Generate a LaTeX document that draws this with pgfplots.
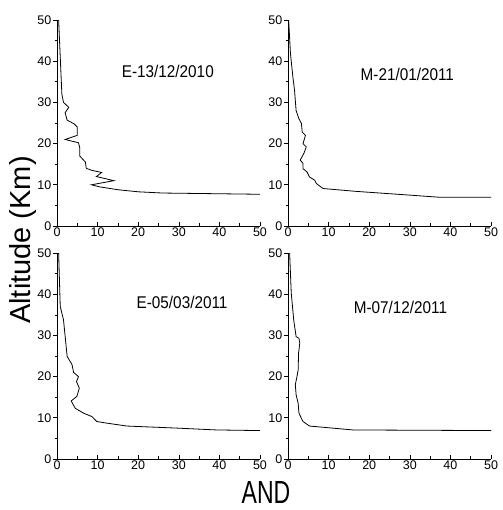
\documentclass[border=0pt]{standalone}
\usepackage{fontspec}
\setmainfont{Liberation Sans}
\usepackage{pgfplots}
\pgfplotsset{compat=1.18}
\pgfplotsset{
 panel/.style={
  anchor=south west, scale only axis, width=203pt, height=206pt,
  xmin=0,xmax=50,ymin=0,ymax=50, axis lines*=left,
  xtick={0,10,...,50}, ytick={0,10,...,50},
  minor x tick num=1, minor y tick num=1,
  xtick align=inside, ytick align=outside,
  major tick length=4pt, minor tick length=2.5pt,
  tick style={black, line width=0.6pt},
  axis line style={line width=0.8pt},
  ticklabel style={font=\fontsize{12.5}{13}\selectfont, inner sep=1.5pt},
  /pgf/number format/assume math mode=true,
  clip=false,
 },
 prof/.style={black, line width=0.8pt, no marks},
}
\tikzset{ttl/.style={font=\fontsize{17}{19}\selectfont}}
\begin{document}
\begin{tikzpicture}[x=1pt,y=1pt]
\path (0,0) rectangle (502,510);
\begin{axis}[panel, at={(57pt,284pt)}]
\addplot[prof] coordinates {
(0.4,50) (0.8,41) (1.2,32) (1.6,30) (2.9,28.8) (2,27.5) (2.5,25.7) (4.2,24.8) (5,24) (5,22) (2,21) (5.3,20.2) (5.6,19) (5.6,17) (7,15.5) (7.2,14) (8.6,13.5) (11,13) (9.7,12) (14,11) (8.5,10) (10.5,9.5) (15,8.8) (20,8.3) (26,8) (50,7.7)
};
\node[ttl] at (axis cs:27.3,37.4) {\scalebox{0.9}[1]{E-13/12/2010}};
\end{axis}
\begin{axis}[panel, at={(288pt,284pt)}]
\addplot[prof] coordinates {
(0.16,50) (0.6,41.9) (1.2,36.2) (1.6,33) (2,28) (2.7,26) (3.3,24.9) (3.5,22.8) (4.3,22) (3.7,20) (4.5,19.2) (3.9,17.6) (3,16) (3.7,15.2) (3.7,13.9) (4.7,13.1) (5.3,11.9) (6.6,11.1) (7,10.3) (8.6,9.1) (16.8,8.4) (29.9,7.5) (37,7) (50,7)
};
\node[ttl] at (axis cs:29.4,36.7) {\scalebox{0.9}[1]{M-21/01/2011}};
\end{axis}
\begin{axis}[panel, at={(57pt,51pt)}]
\addplot[prof] coordinates {
(0.4,50) (0.8,37) (1.6,33.8) (2.5,24.9) (3.7,22.9) (4.1,21) (5.3,20) (4.8,18.8) (5.5,17.2) (4.9,15.2) (3.5,14.1) (4.5,12.3) (6.6,11.1) (8.6,10.3) (9.8,9.1) (12.3,8.7) (17.2,8) (29.5,7.5) (39.3,7.05) (50,6.9)
};
\node[ttl] at (axis cs:30.8,38.1) {\scalebox{0.9}[1]{E-05/03/2011}};
\end{axis}
\begin{axis}[panel, at={(288pt,51pt)}]
\addplot[prof] coordinates {
(0.4,50) (0.8,40.3) (1.4,33.8) (2,29.7) (2.7,29.3) (2.9,28.1) (2.6,25.7) (2.5,21.6) (2.2,20) (1.8,18) (2,15.6) (2.5,13.5) (2.7,11.1) (3.7,9.1) (5.3,8) (16,7.05) (50,6.9)
};
\node[ttl] at (axis cs:27.7,36.9) {\scalebox{0.9}[1]{M-07/12/2011}};
\end{axis}
\node[rotate=90, font=\fontsize{29}{31}\selectfont] at (23,270) {Altitude (Km)};
\node[inner sep=0pt, font=\fontsize{32}{34}\selectfont] at (266,18) {\scalebox{0.72}[1]{AND}};
\end{tikzpicture}
\end{document}
